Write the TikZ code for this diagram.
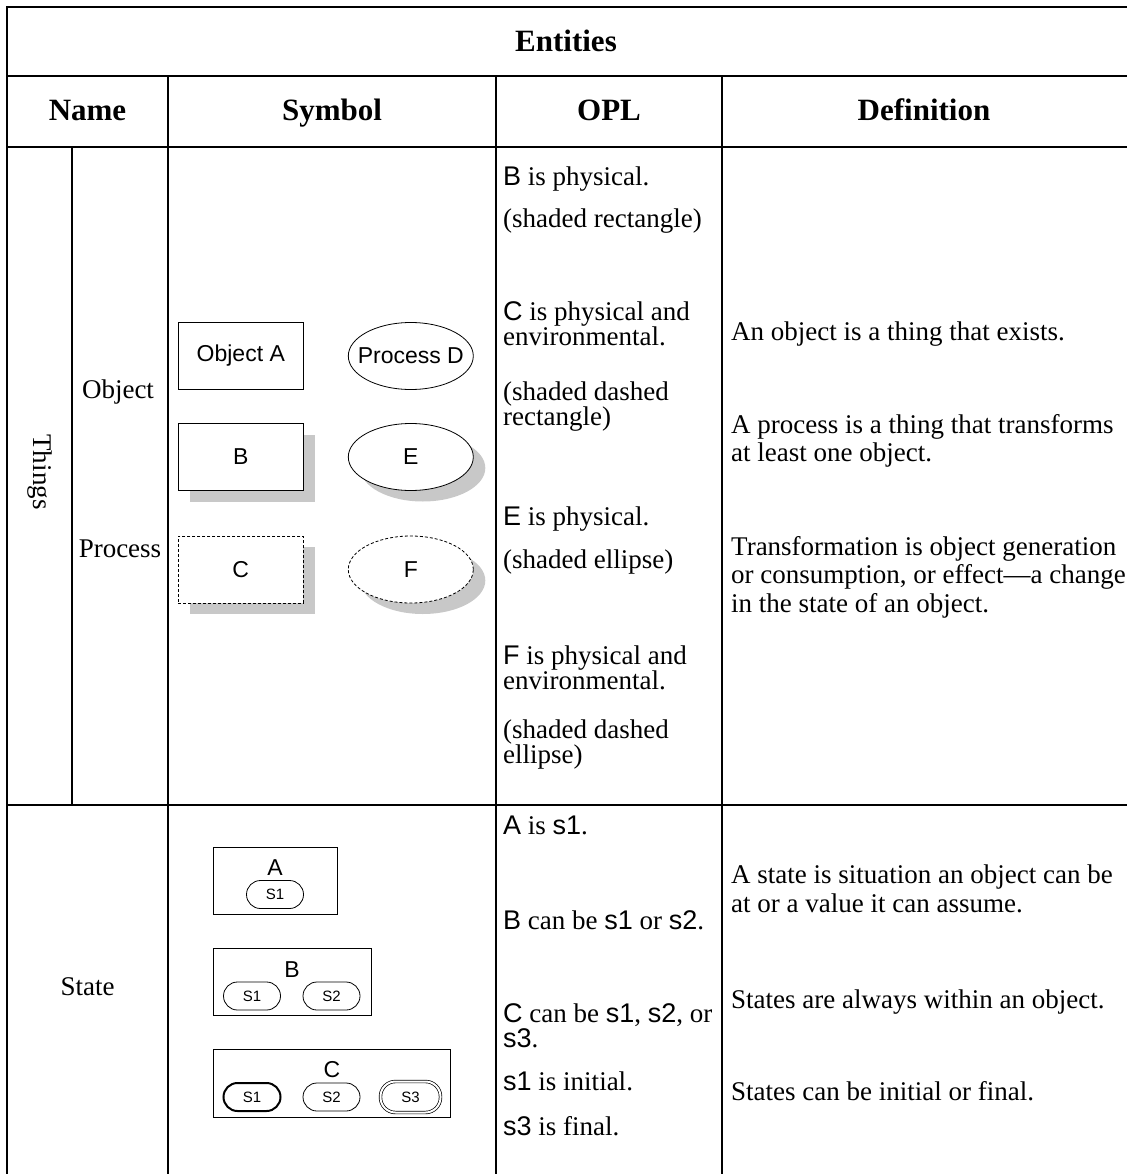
\documentclass[tikz,border=0pt]{standalone}
\usepackage{fontspec}
\setmainfont{Liberation Serif}
\newfontfamily\sansfam{Liberation Sans}
\usetikzlibrary{shapes.geometric,shadows}
\definecolor{shadowgrey}{RGB}{200,200,200}
\newcommand{\opm}[1]{{\sansfam #1}}
\begin{document}
\begin{tikzpicture}[x=1pt,y=-1pt,
  rule/.style={line width=2pt, line cap=rect},
  hdr/.style={font=\fontsize{31}{34}\selectfont\bfseries, inner sep=0pt, anchor=base},
  cell/.style={font=\fontsize{27}{27}\selectfont, inner sep=0pt},
  txt/.style={cell, anchor=base west},
  shp/.style={draw, line width=0.8pt, fill=white, minimum width=125pt,
    minimum height=67pt, inner sep=0pt, font=\sansfam\fontsize{23}{23}\selectfont},
  obj/.style={shp, rectangle},
  proc/.style={shp, ellipse},
  env/.style={dash pattern=on 3pt off 2pt},
  shadowed/.style={drop shadow={shadow xshift=12pt, shadow yshift=-11pt,
    fill=shadowgrey, opacity=1}},
  sbox/.style={draw, line width=0.8pt, rectangle, minimum height=67pt, inner sep=0pt},
  slabel/.style={font=\sansfam\fontsize{23}{23}\selectfont, inner sep=0pt},
  stadium/.style={draw, line width=0.8pt, rectangle, rounded corners=14pt,
    minimum width=57pt, minimum height=28pt, inner sep=0pt,
    font=\sansfam\fontsize{15}{15}\selectfont},
  initial/.style={line width=2pt},
  final/.style={double, double distance=2pt, line width=0.7pt,
    minimum width=60pt, minimum height=31pt, rounded corners=15pt}
]
\useasboundingbox (0,0) rectangle (1126,1174);

% table rules
\draw[rule] (7,1174) -- (7,7) -- (1126,7);
\draw[rule] (7,76) -- (1126,76);
\draw[rule] (7,147) -- (1126,147);
\draw[rule] (7,805) -- (1126,805);
\draw[rule] (72,147) -- (72,805);
\draw[rule] (168,76) -- (168,1174);
\draw[rule] (496,76) -- (496,1174);
\draw[rule] (722,76) -- (722,1174);

% headings
\node[hdr] (hEnt) at (566,52) {Entities};
\node[hdr] (hName) at (87.5,121) {Name};
\node[hdr] (hSym) at (332,121) {Symbol};
\node[hdr] (hOpl) at (609,121) {OPL};
\node[hdr] (hDef) at (924,121) {Definition};

% name column
\node[cell, rotate=-90] (nThings) at (40,472) {Things};
\node[cell] (nObject) at (118,392) {Object};
\node[cell] (nProcess) at (120,549) {Process};
\node[cell] (nState) at (87.5,987) {State};

% thing symbols
\node[obj] (objA) at (240.8,355.5) {Object A};
\node[proc] (procD) at (410.8,356) {\makebox[0pt]{Process D}};
\node[obj, shadowed] (objB) at (240.8,457) {B};
\node[proc, shadowed] (procE) at (410.8,457) {E};
\node[obj, env, shadowed] (objC) at (240.8,569.5) {C};
\node[proc, env, shadowed] (procF) at (410.8,569.5) {F};

% state symbols
\node[sbox, minimum width=124pt] (stA) at (275,880.5) {};
\node[slabel] (stAname) at (275,868) {A};
\node[stadium] (stA1) at (275,894.5) {S1};

\node[sbox, minimum width=158pt] (stB) at (292,981.5) {};
\node[slabel] (stBname) at (292,970) {B};
\node[stadium] (stB1) at (252,996) {S1};
\node[stadium] (stB2) at (331.5,996) {S2};

\node[sbox, minimum width=237pt, minimum height=68pt] (stC) at (331.5,1083) {};
\node[slabel] (stCname) at (332,1070) {C};
\node[stadium, initial] (stC1) at (252,1097) {S1};
\node[stadium] (stC2) at (331.5,1097) {S2};
\node[stadium, final] (stC3) at (410.5,1097) {S3};

% OPL column
\node[txt] (o1) at (503,186) {\opm{B} is physical.};
\node[txt] (o2) at (503,228) {(shaded rectangle)};
\node[txt] (o3) at (503,320) {\opm{C} is physical and};
\node[txt] (o4) at (503,345.5) {environmental.};
\node[txt] (o5) at (503,400) {(shaded dashed};
\node[txt] (o6) at (503,425.5) {rectangle)};
\node[txt] (o7) at (503,525) {\opm{E} is physical.};
\node[txt] (o8) at (503,568) {(shaded ellipse)};
\node[txt] (o9) at (503,664) {\opm{F} is physical and};
\node[txt] (o10) at (503,689.5) {environmental.};
\node[txt] (o11) at (503,738) {(shaded dashed};
\node[txt] (o12) at (503,763.5) {ellipse)};
\node[txt] (o13) at (503,834) {\opm{A} is \opm{s1}.};
\node[txt] (o14) at (503,929) {\opm{B} can be \opm{s1} or \opm{s2}.};
\node[txt] (o15) at (503,1022) {\opm{C} can be \opm{s1}, \opm{s2}, or};
\node[txt] (o16) at (503,1047.5) {\opm{s3}.};
\node[txt] (o17) at (503,1090) {\opm{s1} is initial.};
\node[txt] (o18) at (503,1135) {\opm{s3} is final.};

% definition column
\node[txt] (d1) at (731,340) {An object is a thing that exists.};
\node[txt] (d2) at (731,433) {A process is a thing that transforms};
\node[txt] (d3) at (731,461) {at least one object.};
\node[txt] (d4) at (731,555) {Transformation is object generation};
\node[txt] (d5) at (731,583.5) {or consumption, or effect---a change};
\node[txt] (d6) at (731,612) {in the state of an object.};
\node[txt] (d7) at (731,883) {A state is situation an object can be};
\node[txt] (d8) at (731,912) {at or a value it can assume.};
\node[txt] (d9) at (731,1008) {States are always within an object.};
\node[txt] (d10) at (731,1100) {States can be initial or final.};
\end{tikzpicture}
\end{document}
